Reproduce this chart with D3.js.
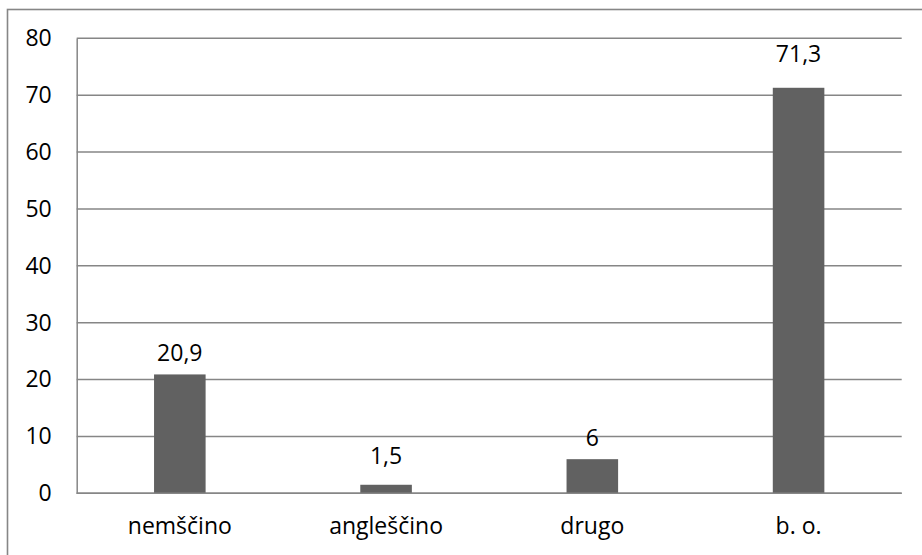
<!DOCTYPE html>
<html>
<head>
<meta charset="utf-8">
<script src="https://cdn.jsdelivr.net/npm/d3@7/dist/d3.min.js"></script>
<style>
  html, body { margin: 0; padding: 0; background: #fff; }
  svg { display: block; }
  text { font-family: "Open Sans", sans-serif; fill: #000; }
</style>
</head>
<body>
<svg id="chart" width="922" height="555"></svg>
<script>
// Jezik – deleži v odstotkih
const categories = ["nemščino", "angleščino", "drugo", "b. o."];
const values = [20.9, 1.5, 6, 71.3];
const valueLabels = ["20,9", "1,5", "6", "71,3"];
const yTicks = [0, 10, 20, 30, 40, 50, 60, 70, 80];

// Layout
const plot = { left: 76.7, right: 901.7, top: 38.3, bottom: 493.3 };
const labelGap = [13, 21, 13, 26];   // space between bar top and its value label baseline
const gridColor = "#868686";
const barColor = "#616161";
const fontSize = 23;
const fontFamily = "'Open Sans', sans-serif";

const svg = d3.select("#chart");

// Outer chart frame (continues past the visible area on the right and bottom)
svg.append("rect")
  .attr("x", 7.5).attr("y", 9.5)
  .attr("width", 2000).attr("height", 2000)
  .attr("fill", "none")
  .attr("stroke", gridColor)
  .attr("stroke-width", 1.6);

const x = d3.scaleBand()
  .domain(categories)
  .range([plot.left, plot.right])
  .paddingInner(0.75)
  .paddingOuter(0.375);

const y = d3.scaleLinear()
  .domain([0, 80])
  .range([plot.bottom, plot.top]);

// Horizontal gridlines
svg.append("g")
  .selectAll("line")
  .data(yTicks)
  .join("line")
  .attr("x1", plot.left).attr("x2", plot.right)
  .attr("y1", d => y(d)).attr("y2", d => y(d))
  .attr("stroke", gridColor)
  .attr("stroke-width", 1.5);

// Y axis
const yAxis = svg.append("g")
  .attr("transform", `translate(${plot.left},0)`)
  .call(d3.axisLeft(y).tickValues(yTicks).tickSize(0).tickPadding(25).tickFormat(d3.format("d")));
yAxis.select(".domain").attr("stroke", gridColor).attr("stroke-width", 1.5);
yAxis.selectAll("text")
  .attr("font-size", fontSize)
  .attr("font-family", fontFamily)
  .attr("fill", "#000");

// Bars
svg.append("g")
  .selectAll("rect")
  .data(values)
  .join("rect")
  .attr("x", (d, i) => x(categories[i]))
  .attr("width", x.bandwidth())
  .attr("y", d => y(d))
  .attr("height", d => y(0) - y(d))
  .attr("fill", barColor);

// Baseline drawn above the bars
svg.append("line")
  .attr("x1", plot.left).attr("x2", plot.right)
  .attr("y1", y(0)).attr("y2", y(0))
  .attr("stroke", gridColor)
  .attr("stroke-width", 1.5);

// Value labels
svg.append("g")
  .selectAll("text")
  .data(values)
  .join("text")
  .attr("x", (d, i) => x(categories[i]) + x.bandwidth() / 2)
  .attr("y", (d, i) => y(d) - labelGap[i])
  .attr("text-anchor", "middle")
  .attr("font-size", fontSize)
  .text((d, i) => valueLabels[i]);

// Category labels
const xAxis = svg.append("g")
  .attr("transform", `translate(0,${plot.bottom})`)
  .call(d3.axisBottom(x).tickSize(0).tickPadding(24));
xAxis.select(".domain").remove();
xAxis.selectAll("text")
  .attr("font-size", fontSize)
  .attr("font-family", fontFamily)
  .attr("fill", "#000");
</script>
</body>
</html>
